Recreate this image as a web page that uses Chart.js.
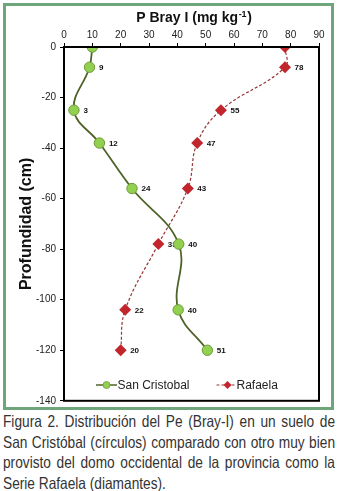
<!DOCTYPE html>
<html>
<head>
<meta charset="utf-8">
<script src="https://cdn.jsdelivr.net/npm/chart.js@4/dist/chart.umd.min.js"></script>
<style>
  html, body { margin: 0; padding: 0; background: #fff; }
  #box {
    position: absolute; left: 3px; top: 3px;
    width: 325px; height: 401px;
    border: 3px solid #6fa57a;
  }
  #caption {
    position: absolute; left: 3px; top: 411px;
    font-family: "Liberation Sans", Arial, sans-serif;
    font-size: 16.5px; line-height: 20.6px; color: #333;
  }
  #caption div {
    width: 400px; transform: scaleX(0.83); transform-origin: 0 0;
    text-align: justify; text-align-last: justify; white-space: nowrap;
  }
  #caption div.last { text-align-last: left; }
</style>
</head>
<body>
<div id="box"><canvas id="chart" width="325" height="401"></canvas></div>
<div id="caption">
  <div>Figura 2. Distribución del Pe (Bray-I) en un suelo de</div>
  <div>San Cristóbal (círculos) comparado con otro muy bien</div>
  <div>provisto del domo occidental de la provincia como la</div>
  <div class="last">Serie Rafaela (diamantes).</div>
</div>
<script>
// depth (cm) of each sample, shared by both soils
const depths = [0, -8, -25, -38, -56, -78, -104, -120];

// P Bray I (mg/kg)
const sanCristobal = [10, 9, 3.5, 12.5, 24, 40.5, 40.3, 50.6];
const rafaela = [78, 78, 55.4, 47, 43.7, 33.3, 21.6, 20];

// value labels printed next to the markers
const sanCristobalLabels = ['', '9', '3', '12', '24', '40', '40', '51'];
const rafaelaLabels = ['', '78', '55', '47', '43', '33', '22', '20'];

const xTicks = { min: 0, max: 90, step: 10 };
const yTicks = { min: -140, max: 0, step: 20 };

const FONT = '"Liberation Sans", Arial, sans-serif';

const COLORS = {
  greenLine: '#4f6228',
  greenFill: '#92d050',
  greenBorder: '#6e9a3a',
  redLine: '#953735',
  redFill: '#c0262c',
  text: '#222'
};

function toPoints(xs) {
  return xs.map((v, i) => ({ x: v, y: depths[i] }));
}

const labelSets = [sanCristobalLabels, rafaelaLabels];

// value labels, drawn right after each dataset so later ones cover them
const pointLabels = {
  id: 'pointLabels',
  afterDatasetDraw(chart, args) {
    const ctx = chart.ctx;
    const labels = labelSets[args.index];
    ctx.save();
    ctx.font = 'bold 8px ' + FONT;
    ctx.fillStyle = '#111';
    ctx.textAlign = 'left';
    ctx.textBaseline = 'middle';
    args.meta.data.forEach((pt, i) => {
      if (labels[i]) ctx.fillText(labels[i], pt.x + 9.5, pt.y + 0.5);
    });
    ctx.restore();
  }
};

// plot frame, titles and the in-plot legend
const decorations = {
  id: 'decorations',
  afterDraw(chart) {
    const ctx = chart.ctx;
    const a = chart.chartArea;
    ctx.save();
    ctx.strokeStyle = '#000';
    ctx.lineWidth = 2;
    ctx.strokeRect(a.left, a.top, a.right - a.left, a.bottom - a.top);

    // top title with superscript
    ctx.fillStyle = '#111';
    ctx.textBaseline = 'middle';
    ctx.textAlign = 'left';
    const main = 'P Bray I (mg kg';
    const sup = '-1';
    const end = ')';
    ctx.font = 'bold 14px ' + FONT;
    const w1 = ctx.measureText(main).width;
    const w3 = ctx.measureText(end).width;
    ctx.font = 'bold 9px ' + FONT;
    const w2 = ctx.measureText(sup).width;
    let x = (a.left + a.right) / 2 + 2 - (w1 + w2 + w3) / 2;
    const ty = 12.5;
    ctx.font = 'bold 14px ' + FONT;
    ctx.fillText(main, x, ty);
    ctx.font = 'bold 9px ' + FONT;
    ctx.fillText(sup, x + w1 + 0.5, ty - 4);
    ctx.font = 'bold 14px ' + FONT;
    ctx.fillText(end, x + w1 + w2 + 1, ty);

    // y axis title
    ctx.save();
    ctx.translate(21, (a.top + a.bottom) / 2);
    ctx.rotate(-Math.PI / 2);
    ctx.textAlign = 'center';
    ctx.font = 'bold 16px ' + FONT;
    ctx.fillText('Profundidad (cm)', 0, 0);
    ctx.restore();

    // legend
    const ly = 379;
    ctx.font = '12px ' + FONT;
    ctx.fillStyle = COLORS.text;
    ctx.strokeStyle = COLORS.greenLine;
    ctx.lineWidth = 1.5;
    ctx.beginPath();
    ctx.moveTo(90, ly);
    ctx.lineTo(111, ly);
    ctx.stroke();
    ctx.beginPath();
    ctx.arc(100.5, ly, 3.5, 0, Math.PI * 2);
    ctx.fillStyle = COLORS.greenFill;
    ctx.fill();
    ctx.lineWidth = 0.8;
    ctx.strokeStyle = COLORS.greenBorder;
    ctx.stroke();
    ctx.fillStyle = COLORS.text;
    ctx.fillText('San Cristobal', 111.5, ly + 0.5);

    ctx.strokeStyle = COLORS.redLine;
    ctx.lineWidth = 1;
    ctx.setLineDash([3, 2]);
    ctx.beginPath();
    ctx.moveTo(210.5, ly);
    ctx.lineTo(230, ly);
    ctx.stroke();
    ctx.setLineDash([]);
    ctx.fillStyle = COLORS.redFill;
    ctx.beginPath();
    ctx.moveTo(221.5, ly - 4);
    ctx.lineTo(225.5, ly);
    ctx.lineTo(221.5, ly + 4);
    ctx.lineTo(217.5, ly);
    ctx.closePath();
    ctx.fill();
    ctx.fillStyle = COLORS.text;
    ctx.fillText('Rafaela', 230.5, ly + 0.5);
    ctx.restore();
  }
};

const axisCommon = {
  type: 'linear',
  grid: { drawOnChartArea: false, drawTicks: true, tickLength: 4, color: '#000', lineWidth: 1 },
  border: { display: true, color: '#000', width: 2 },
};

new Chart(document.getElementById('chart'), {
  type: 'scatter',
  data: {
    datasets: [
      {
        label: 'San Cristobal',
        data: toPoints(sanCristobal),
        showLine: true,
        tension: 0.4,
        borderColor: COLORS.greenLine,
        borderWidth: 1.8,
        pointRadius: 5.2,
        pointBackgroundColor: COLORS.greenFill,
        pointBorderColor: COLORS.greenBorder,
        pointBorderWidth: 1
      },
      {
        label: 'Rafaela',
        data: toPoints(rafaela),
        showLine: true,
        tension: 0.4,
        borderColor: COLORS.redLine,
        borderWidth: 1.2,
        borderDash: [3, 2],
        pointStyle: 'rectRot',
        pointRadius: 6,
        pointBackgroundColor: COLORS.redFill,
        pointBorderColor: COLORS.redFill,
        pointBorderWidth: 0
      }
    ]
  },
  options: {
    responsive: false,
    animation: false,
    devicePixelRatio: 1,
    layout: { padding: { left: 0, right: 12, top: 0, bottom: 4 } },
    plugins: { legend: { display: false }, tooltip: { enabled: false } },
    scales: {
      x: {
        ...axisCommon,
        position: 'top',
        min: xTicks.min,
        max: xTicks.max,
        ticks: { stepSize: xTicks.step, padding: 2, color: COLORS.text, font: { size: 10, family: FONT } },
        afterFit(scale) { scale.height = 41; scale.paddingLeft = 0; scale.paddingRight = 0; }
      },
      y: {
        ...axisCommon,
        position: 'left',
        min: yTicks.min,
        max: yTicks.max,
        ticks: { stepSize: yTicks.step, padding: 4, color: COLORS.text, font: { size: 10, family: FONT } },
        afterFit(scale) { scale.width = 58; scale.paddingTop = 0; scale.paddingBottom = 0; }
      }
    }
  },
  plugins: [pointLabels, decorations]
});
</script>
</body>
</html>
